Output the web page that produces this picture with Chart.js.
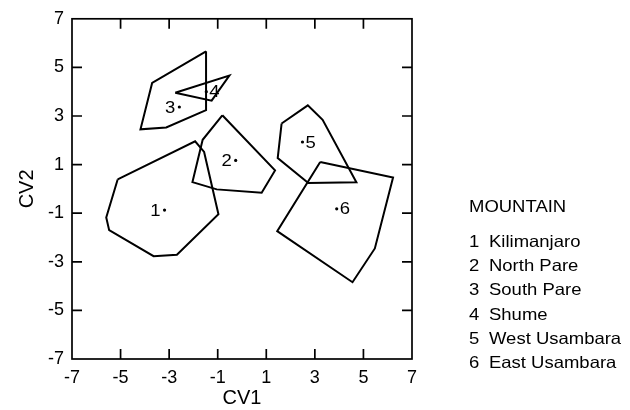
<!DOCTYPE html>
<html><head><meta charset="utf-8">
<script src="https://cdn.jsdelivr.net/npm/chart.js@4.4.1/dist/chart.umd.min.js"></script>
<style>html,body{margin:0;padding:0;background:#fff}#wrap{width:630px;height:410px}</style>
</head><body><div id="wrap"><canvas id="c" width="630" height="410"></canvas></div>
<script>
// ---- data ----
const groupIds = ["1","2","3","4","5","6"];
const mountainNames = ["Kilimanjaro","North Pare","South Pare","Shume","West Usambara","East Usambara"];
const centroidCV1 = [-3.19,-0.26,-2.58,-1.47,2.49,3.90];
const centroidCV2 = [-0.87,1.17,3.37,4.00,1.93,-0.82];
const hull1CV1 = [-5.12,-1.93,-1.56,-0.97,-2.68,-3.64,-5.47,-5.59];
const hull1CV2 = [0.39,1.96,1.52,-1.04,-2.71,-2.77,-1.70,-1.18];
const hull2CV1 = [-0.81,1.36,0.81,-1.04,-2.04,-1.62];
const hull2CV2 = [3.03,0.76,-0.16,-0.02,0.28,2.02];
const hull3CV1 = [-1.48,-1.48,-3.12,-4.18,-3.70];
const hull3CV2 = [5.66,3.24,2.53,2.45,4.36];
const hull4CV1 = [-2.75,-0.52,-1.25];
const hull4CV2 = [3.96,4.66,3.63];
const hull5CV1 = [1.63,2.71,3.32,4.71,2.73,1.47];
const hull5CV2 = [2.69,3.44,2.84,0.27,0.24,1.27];
const hull6CV1 = [3.22,6.22,5.47,4.55,1.45];
const hull6CV2 = [1.11,0.47,-2.45,-3.84,-1.74];
const tickValues = [-7,-5,-3,-1,1,3,5,7];
const axisMin = -7, axisMax = 7;

// ---- presentation ----
const hullsCV1 = [hull1CV1,hull2CV1,hull3CV1,hull4CV1,hull5CV1,hull6CV1];
const hullsCV2 = [hull1CV2,hull2CV2,hull3CV2,hull4CV2,hull5CV2,hull6CV2];
const labelSide = ["left","left","left","right","right","right"];
const FONT = '"Liberation Sans", Arial, Helvetica, sans-serif';
const STRETCH = 1.12;

const datasets = hullsCV1.map((xs,k) => {
  const pts = xs.map((v,i) => ({x:v, y:hullsCV2[k][i]}));
  pts.push({x:xs[0], y:hullsCV2[k][0]});
  return {data:pts, showLine:true, pointRadius:0, borderColor:'#000', borderWidth:2, fill:false, tension:0};
});
datasets.push({
  data: centroidCV1.map((v,i)=>({x:v,y:centroidCV2[i]})),
  showLine:false, pointRadius:1.6, pointBorderWidth:0, backgroundColor:'#000', borderColor:'#000'
});

function stretchedText(ctx, txt, x, y, align){
  ctx.save();
  ctx.translate(x, y);
  ctx.scale(STRETCH, 1);
  ctx.textAlign = align;
  ctx.fillText(txt, 0, 0);
  ctx.restore();
}

const framePlugin = {
  id:'frame',
  afterDatasetsDraw(chart){
    const {ctx, chartArea:a, scales:{x,y}} = chart;
    ctx.save();
    ctx.strokeStyle='#000'; ctx.lineWidth=1.7;
    ctx.strokeRect(a.left, a.top, a.right-a.left, a.bottom-a.top);
    const L=10;
    ctx.beginPath();
    tickValues.forEach(v=>{
      if (v===axisMin || v===axisMax) return;
      const px=x.getPixelForValue(v);
      ctx.moveTo(px,a.bottom); ctx.lineTo(px,a.bottom-L);
      ctx.moveTo(px,a.top); ctx.lineTo(px,a.top+L);
      const py=y.getPixelForValue(v);
      ctx.moveTo(a.left,py); ctx.lineTo(a.left+L,py);
      ctx.moveTo(a.right,py); ctx.lineTo(a.right-L,py);
    });
    ctx.stroke();
    ctx.fillStyle='#000';
    ctx.font='16.5px '+FONT; ctx.textBaseline='middle';
    groupIds.forEach((g,i)=>{
      const px=x.getPixelForValue(centroidCV1[i]), py=y.getPixelForValue(centroidCV2[i]);
      if (labelSide[i]==='left') stretchedText(ctx, g, px-4, py+1, 'right');
      else stretchedText(ctx, g, px+3, py+1, 'left');
    });
    // legend text
    stretchedText(ctx, 'MOUNTAIN', 469, 207, 'left');
    mountainNames.forEach((n,i)=>{
      const yy = 242.5 + 24.2*i;
      stretchedText(ctx, groupIds[i], 469, yy, 'left');
      stretchedText(ctx, n, 489, yy, 'left');
    });
    ctx.restore();
  }
};

const setTicks = s => { s.ticks = tickValues.map(v=>({value:v})); };

new Chart(document.getElementById('c'), {
  type:'scatter',
  data:{datasets},
  options:{
    responsive:false, animation:false, devicePixelRatio:1,
    layout:{padding:{top:17, right:218, left:15, bottom:0}},
    plugins:{legend:{display:false}, tooltip:{enabled:false}},
    scales:{
      x:{type:'linear', min:axisMin, max:axisMax,
        afterBuildTicks:setTicks,
        afterFit:s=>{s.height=51;},
        grid:{display:false, drawTicks:false}, border:{display:false},
        ticks:{color:'#000', padding:8, font:{size:18, family:FONT}},
        title:{display:true, text:'CV1', color:'#000', font:{size:20, family:FONT}, padding:0}
      },
      y:{type:'linear', min:axisMin, max:axisMax,
        afterBuildTicks:setTicks,
        afterFit:s=>{s.width=57;},
        grid:{display:false, drawTicks:false}, border:{display:false},
        ticks:{color:'#000', padding:8, font:{size:18, family:FONT}},
        title:{display:true, text:'CV2', color:'#000', font:{size:20, family:FONT}, padding:0}
      }
    }
  },
  plugins:[framePlugin]
});
</script></body></html>
